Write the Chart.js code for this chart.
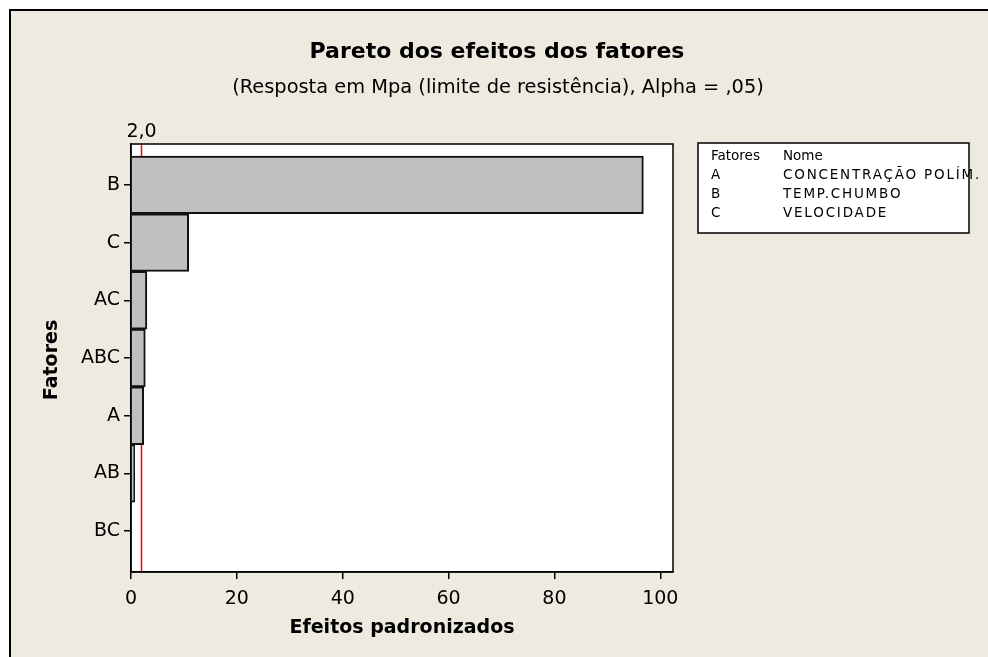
<!DOCTYPE html>
<html>
<head>
<meta charset="utf-8">
<script src="https://cdn.jsdelivr.net/npm/chart.js@4"></script>
<style>
  html, body { margin: 0; padding: 0; background: #fff; }
  #wrap { position: absolute; left: 0; top: 0; width: 988px; height: 657px; }
</style>
</head>
<body>
<div id="wrap"><canvas id="paretoChart" width="988" height="657"></canvas></div>
<script>
// dados
const fatores = ['B', 'C', 'AC', 'ABC', 'A', 'AB', 'BC'];
const efeitos = [96.8, 10.9, 3.0, 2.7, 2.4, 0.7, 0.1];
const xTicks = [0, 20, 40, 60, 80, 100];
const limite = 2.0;
const limiteLabel = '2,0';
const legendaCodigos = ['A', 'B', 'C'];
const legendaNomes = ['CONCENTRAÇÃO POLÍM.', 'TEMP.CHUMBO', 'VELOCIDADE'];

const FONT = '"DejaVu Sans", Verdana, sans-serif';

// fundo bege, moldura, area branca do grafico e linha de referencia
const fundo = {
    id: 'fundo',
    beforeDraw(chart) {
        const c = chart.ctx, a = chart.chartArea;
        c.save();
        c.fillStyle = '#fff';
        c.fillRect(0, 0, chart.width, chart.height);
        c.fillStyle = '#eeeae0';
        c.fillRect(10, 10, chart.width - 10, chart.height - 10);
        c.strokeStyle = '#000';
        c.lineWidth = 2;
        c.beginPath();
        c.moveTo(10, chart.height);
        c.lineTo(10, 10);
        c.lineTo(chart.width, 10);
        c.stroke();
        c.fillStyle = '#fff';
        c.fillRect(a.left, a.top, a.right - a.left, a.bottom - a.top);
        c.restore();
    },
    beforeDatasetsDraw(chart) {
        const c = chart.ctx, a = chart.chartArea;
        const x = Math.round(chart.scales.x.getPixelForValue(limite)) - 0.5;
        c.save();
        c.strokeStyle = '#ff0000';
        c.lineWidth = 1.5;
        c.beginPath();
        c.moveTo(x, a.top);
        c.lineTo(x, a.bottom);
        c.stroke();
        c.fillStyle = '#000';
        c.font = '19px ' + FONT;
        c.textAlign = 'center';
        c.textBaseline = 'bottom';
        c.fillText(limiteLabel, x, a.top - 2);
        c.restore();
    },
    afterDraw(chart) {
        const c = chart.ctx, a = chart.chartArea;
        c.save();
        c.strokeStyle = '#000';
        c.lineWidth = 1.5;
        c.strokeRect(a.left, a.top, a.right - a.left, a.bottom - a.top);

        // titulos
        c.fillStyle = '#000';
        c.textAlign = 'center';
        c.textBaseline = 'middle';
        c.font = 'bold 22px ' + FONT;
        c.fillText('Pareto dos efeitos dos fatores', 497, 52);
        c.font = '19.4px ' + FONT;
        c.fillText('(Resposta em Mpa (limite de resistência), Alpha = ,05)', 498, 88);

        // titulos dos eixos
        c.font = 'bold 19px ' + FONT;
        c.fillText('Efeitos padronizados', (a.left + a.right) / 2, 628);
        c.save();
        c.translate(52, 360);
        c.rotate(-Math.PI / 2);
        c.fillText('Fatores', 0, 0);
        c.restore();

        // legenda
        c.fillStyle = '#fff';
        c.fillRect(698, 143, 271, 90);
        c.strokeStyle = '#000';
        c.lineWidth = 1.5;
        c.strokeRect(698, 143, 271, 90);
        c.fillStyle = '#000';
        c.textAlign = 'left';
        c.font = '13.5px ' + FONT;
        c.fillText('Fatores', 711, 156);
        c.fillText('Nome', 783, 156);
        legendaCodigos.forEach((cod, i) => {
            const y = 175 + i * 19;
            c.letterSpacing = '0px';
            c.fillText(cod, 711, y);
            c.letterSpacing = '1.8px';
            c.fillText(legendaNomes[i], 783, y);
        });
        c.restore();
    }
};

new Chart(document.getElementById('paretoChart').getContext('2d'), {
    type: 'bar',
    data: {
        datasets: [{
            data: efeitos.map((v, i) => ({ x: v, y: i })),
            backgroundColor: '#c0c0c0',
            borderColor: '#111',
            borderWidth: 2,
            barPercentage: 1,
            categoryPercentage: 1
        }]
    },
    options: {
        indexAxis: 'y',
        responsive: false,
        animation: false,
        events: [],
        layout: { padding: { top: 144, right: 315, bottom: 0, left: 0 } },
        plugins: { legend: { display: false }, title: { display: false }, tooltip: { enabled: false } },
        scales: {
            x: {
                type: 'linear',
                min: 0,
                max: 102.4,
                afterBuildTicks: (s) => { s.ticks = xTicks.map(v => ({ value: v })); },
                afterFit: (s) => { s.height = 85; },
                grid: { drawOnChartArea: false, drawTicks: true, tickLength: 7, color: '#000', lineWidth: 1.5 },
                border: { display: true, color: '#000', width: 1.5 },
                ticks: { color: '#000', font: { family: FONT, size: 19 }, padding: 9, maxRotation: 0 }
            },
            y: {
                type: 'linear',
                reverse: true,
                offset: false,
                min: -0.708,
                max: 6.708,
                afterBuildTicks: (s) => { s.ticks = fatores.map((f, i) => ({ value: i })); },
                afterFit: (s) => { s.width = 131; },
                grid: { offset: false, drawOnChartArea: false, drawTicks: true, tickLength: 7, color: '#000', lineWidth: 1.5 },
                border: { display: true, color: '#000', width: 1.5 },
                ticks: {
                    color: '#000', font: { family: FONT, size: 19 }, padding: 4,
                    callback: (v) => fatores[v]
                }
            }
        }
    },
    plugins: [fundo]
});
</script>
</body>
</html>
